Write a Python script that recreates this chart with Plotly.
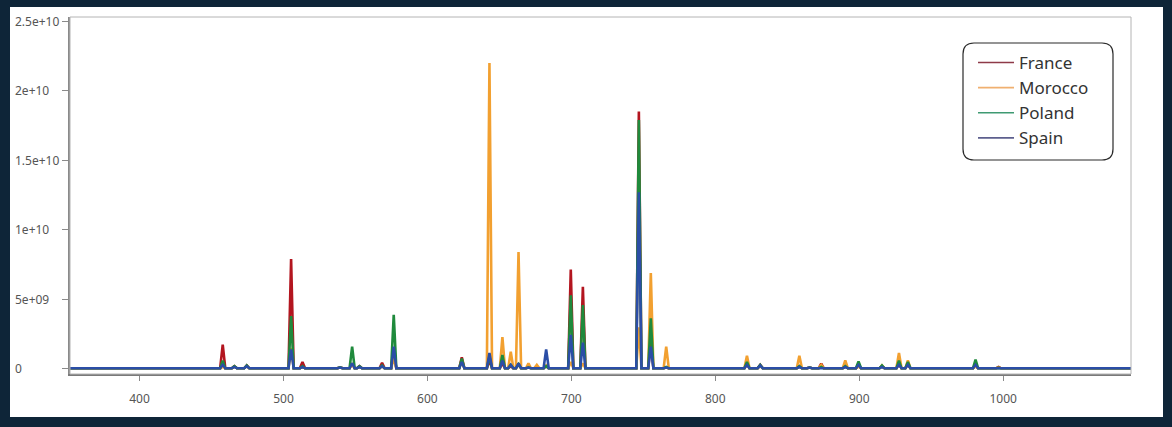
import plotly.graph_objects as go

# ---------------- data ----------------
countries = ["France", "Morocco", "Poland", "Spain"]
colors = ["#b3151f", "#f2a030", "#1f8a3c", "#2b4ea6"]
legend_colors = ["#8e3a48", "#f0b070", "#3f9a72", "#5d5f8e"]

# peak positions (x axis units)
peak_x = [457.8, 465.9, 474.5, 505.3, 513.2, 539.3, 547.7, 552.8, 568.5, 576.6,
          600.0, 623.9, 643.1, 652.1, 657.9, 663.3, 670.2, 676.0, 682.5, 699.6,
          708.0, 746.9, 755.2, 765.9, 800.6, 822.0, 831.2, 858.4, 865.5, 873.6,
          890.3, 899.5, 915.8, 927.6, 933.8, 980.8, 996.8, 1016.6]

# peak heights per country (units of 1e9)
france = [1.75, 0.20, 0.25, 7.90, 0.50, 0.12, 0.40, 0.20, 0.45, 1.20,
          0.06, 0.85, 0.60, 0.40, 0.20, 0.30, 0.10, 0.08, 0.20, 7.15,
          5.90, 18.5, 2.00, 0.10, 0.05, 0.30, 0.30, 0.20, 0.10, 0.38,
          0.20, 0.20, 0.20, 0.30, 0.30, 0.20, 0.15, 0.10]
morocco = [0.15, 0.15, 0.20, 1.50, 0.15, 0.10, 0.30, 0.15, 0.20, 0.80,
           0.06, 0.60, 22.0, 2.30, 1.25, 8.40, 0.40, 0.30, 0.25, 0.50,
           0.40, 3.00, 6.90, 1.60, 0.05, 0.95, 0.20, 0.95, 0.10, 0.30,
           0.62, 0.20, 0.25, 1.15, 0.62, 0.20, 0.10, 0.05]
poland = [0.60, 0.20, 0.25, 3.80, 0.20, 0.12, 1.60, 0.20, 0.25, 3.90,
          0.06, 0.75, 0.90, 1.00, 0.30, 0.35, 0.10, 0.08, 0.20, 5.30,
          4.60, 17.9, 3.65, 0.15, 0.05, 0.50, 0.30, 0.20, 0.10, 0.15,
          0.20, 0.55, 0.25, 0.60, 0.50, 0.67, 0.08, 0.05]
spain = [0.30, 0.15, 0.20, 1.40, 0.15, 0.10, 0.40, 0.15, 0.20, 1.60,
         0.06, 0.50, 1.15, 0.60, 0.30, 0.40, 0.10, 0.08, 1.40, 2.45,
         1.90, 12.7, 1.60, 0.10, 0.05, 0.30, 0.25, 0.15, 0.10, 0.10,
         0.15, 0.30, 0.15, 0.30, 0.30, 0.30, 0.05, 0.05]
baseline = [0.05, 0.05, 0.05, 0.05]   # 1e9 units

x_range = [351.7, 1088.8]
y_range = [-0.36e9, 25.3e9]
x_ticks = [400, 500, 600, 700, 800, 900, 1000]
y_tick_vals = [0, 5e9, 1e10, 1.5e10, 2e10, 2.5e10]
y_tick_text = ["0", "5e+09", "1e+10", "1.5e+10", "2e+10", "2.5e+10"]

# ---------------- layout constants ----------------
W, H = 1172, 427
L, R, T, B = 70, 41, 17, 53
PW, PH = W - L - R, H - T - B
HALF = 1.8  # peak half-width (style)
FONT = "Noto Sans"


def px(xp):
    return (xp - L) / PW


def py(yp):
    return 1 - (yp - T) / PH


fig = go.Figure()
series = [france, morocco, poland, spain]
for name, col, vals, base in zip(countries, colors, series, baseline):
    xs, ys = [x_range[0]], [base * 1e9]
    for p, h in zip(peak_x, vals):
        xs += [p - HALF, p, p + HALF]
        ys += [base * 1e9, h * 1e9, base * 1e9]
    xs.append(x_range[1])
    ys.append(base * 1e9)
    fig.add_trace(go.Scatter(x=xs, y=ys, mode="lines", name=name,
                             showlegend=False,
                             line=dict(color=col, width=2.6)))

# legend entries (thin, as in the reference)
for name, col in zip(countries, legend_colors):
    fig.add_trace(go.Scatter(x=[None], y=[None], mode="lines", name=name,
                             legendgroup=name,
                             line=dict(color=col, width=1.6)))

shapes = [
    # white card inside the dark frame
    dict(type="rect", xref="paper", yref="paper", layer="below",
         x0=px(10), x1=px(1163), y0=py(417), y1=py(7),
         fillcolor="white", line=dict(width=0)),
    # light frame around the plot area
    dict(type="rect", xref="paper", yref="paper", layer="above",
         x0=0, x1=1, y0=0, y1=1, line=dict(color="#b4b4b4", width=1)),
]
# rounded legend box
lx0, lx1, ly0, ly1, rr = 963, 1113, 43, 160, 11
path = (f"M {px(lx0 + rr)},{py(ly0)} L {px(lx1 - rr)},{py(ly0)} "
        f"Q {px(lx1)},{py(ly0)} {px(lx1)},{py(ly0 + rr)} "
        f"L {px(lx1)},{py(ly1 - rr)} Q {px(lx1)},{py(ly1)} {px(lx1 - rr)},{py(ly1)} "
        f"L {px(lx0 + rr)},{py(ly1)} Q {px(lx0)},{py(ly1)} {px(lx0)},{py(ly1 - rr)} "
        f"L {px(lx0)},{py(ly0 + rr)} Q {px(lx0)},{py(ly0)} {px(lx0 + rr)},{py(ly0)} Z")
shapes.append(dict(type="path", xref="paper", yref="paper", path=path,
                   fillcolor="white", layer="above",
                   line=dict(color="#2a2a2a", width=1.2)))

annotations = []
for v, t in zip(y_tick_vals, y_tick_text):
    annotations.append(dict(x=px(13), xref="paper", y=v, yref="y", text=t,
                            showarrow=False, xanchor="left", yanchor="middle",
                            font=dict(family=FONT, size=12, color="#555555")))

fig.update_layout(
    width=W, height=H,
    margin=dict(l=L, r=R, t=T, b=B),
    paper_bgcolor="#0e2538",
    plot_bgcolor="white",
    shapes=shapes,
    annotations=annotations,
    showlegend=True,
    legend=dict(x=px(973), y=py(45), xanchor="left", yanchor="top",
                bgcolor="rgba(0,0,0,0)", borderwidth=0,
                font=dict(family=FONT, size=17, color="#333333"),
                tracegroupgap=0, itemwidth=36),
    xaxis=dict(range=x_range, tickvals=x_ticks, showgrid=False, zeroline=False,
               showline=True, linecolor="#7a7a7a", linewidth=2,
               ticks="outside", ticklen=5, tickcolor="#8a8a8a",
               ticklabelstandoff=8,
               tickfont=dict(family=FONT, size=12, color="#555555")),
    yaxis=dict(range=y_range, tickvals=y_tick_vals, showticklabels=False,
               showgrid=False, zeroline=False,
               showline=True, linecolor="#8a8a8a", linewidth=1.5,
               ticks="outside", ticklen=6, tickcolor="#8a8a8a"),
)

fig.write_html("out.html", config={"displayModeBar": False},
               post_script="document.body.style.margin='0';"
                           "document.body.style.overflow='hidden';")
